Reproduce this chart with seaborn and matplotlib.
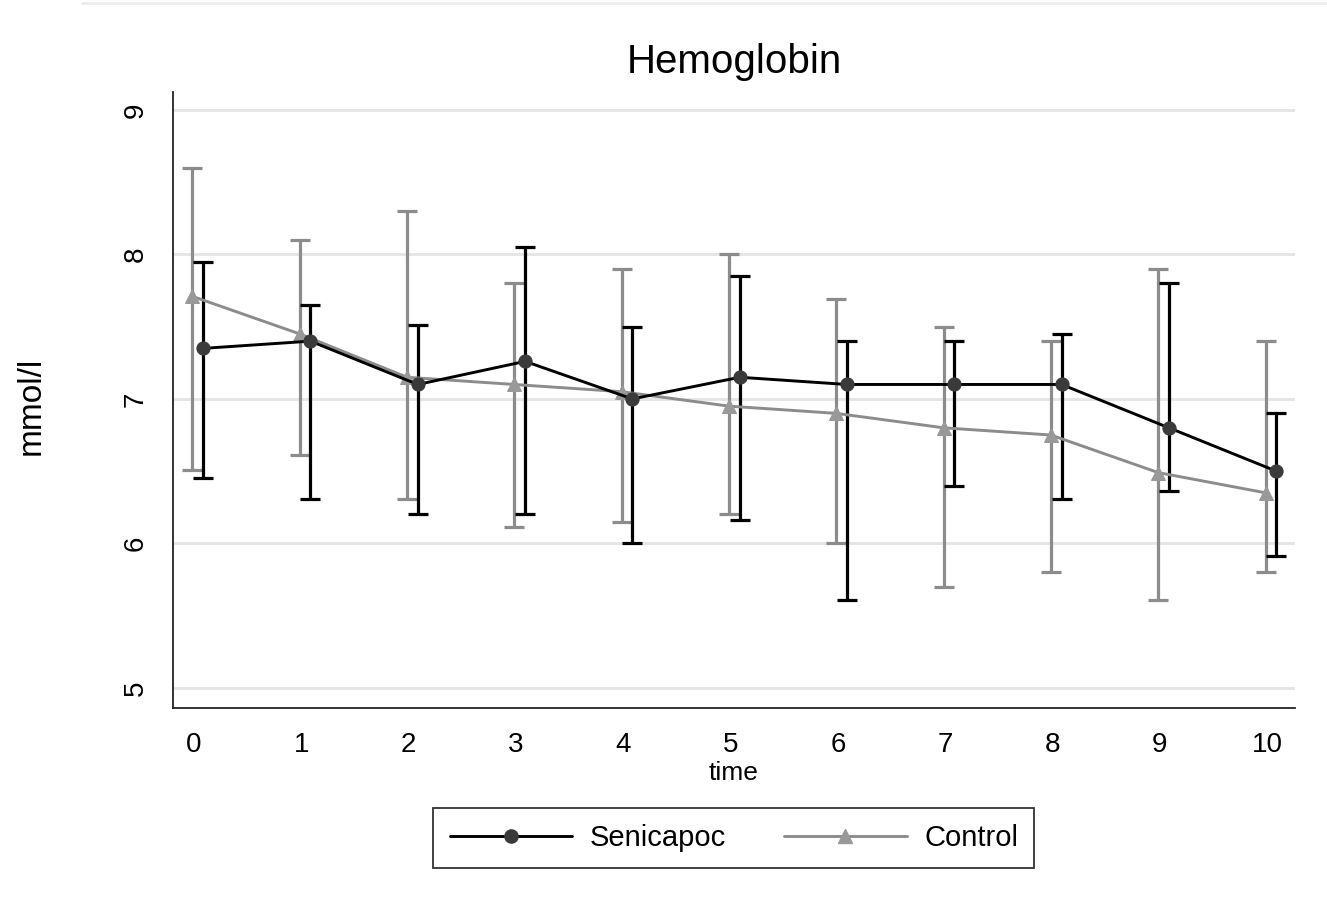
import matplotlib
matplotlib.use("Agg")
import matplotlib.pyplot as plt
import numpy as np
import pandas as pd
import seaborn as sns
from matplotlib.lines import Line2D

# values
time = [0, 1, 2, 3, 4, 5, 6, 7, 8, 9, 10]

seni_mean = [7.35, 7.40, 7.10, 7.26, 7.00, 7.15, 7.10, 7.10, 7.10, 6.80, 6.50]
seni_low = [6.45, 6.31, 6.20, 6.20, 6.00, 6.16, 5.61, 6.40, 6.31, 6.36, 5.91]
seni_high = [7.95, 7.65, 7.51, 8.05, 7.50, 7.85, 7.40, 7.40, 7.45, 7.80, 6.90]

ctrl_mean = [7.71, 7.45, 7.15, 7.10, 7.05, 6.95, 6.90, 6.80, 6.75, 6.49, 6.35]
ctrl_low = [6.51, 6.61, 6.31, 6.11, 6.15, 6.20, 6.00, 5.70, 5.80, 5.61, 5.80]
ctrl_high = [8.60, 8.10, 8.30, 7.80, 7.90, 8.00, 7.69, 7.50, 7.40, 7.90, 7.40]

groups = ["Senicapoc", "Control"]

df = pd.concat([
    pd.DataFrame({"time": time, "group": "Senicapoc", "mean": seni_mean,
                  "low": seni_low, "high": seni_high}),
    pd.DataFrame({"time": time, "group": "Control", "mean": ctrl_mean,
                  "low": ctrl_low, "high": ctrl_high}),
], ignore_index=True)

# small horizontal dodge so the bars don't sit on top of each other
dodge = {"Senicapoc": 0.085, "Control": -0.015}
df["x"] = df["time"] + df["group"].map(dodge)

colors = {"Senicapoc": "#000000", "Control": "#8c8c8c"}
marker_colors = {"Senicapoc": "#3a3a3a", "Control": "#999999"}
markers = {"Senicapoc": "o", "Control": "^"}
msize = {"Senicapoc": 9.5, "Control": 10.5}

sns.set_theme(style="white")
plt.rcParams["font.family"] = ["Liberation Sans", "DejaVu Sans"]
plt.rcParams["text.color"] = "black"
plt.rcParams["axes.labelcolor"] = "black"

fig = plt.figure(figsize=(13.27, 9.09), dpi=100)
ax = fig.add_axes([0.1304, 0.2211, 0.8455, 0.6777])

# error bars (drawn first so lines sit on top)
for g in ["Control", "Senicapoc"]:
    d = df[df["group"] == g]
    ax.errorbar(d["x"], d["mean"],
                yerr=[d["mean"] - d["low"], d["high"] - d["mean"]],
                fmt="none", ecolor=colors[g], elinewidth=2.3,
                capsize=7.5, capthick=2.3, zorder=2)

# mean lines with markers
for g in ["Control", "Senicapoc"]:
    d = df[df["group"] == g]
    sns.lineplot(data=d, x="x", y="mean", ax=ax, color=colors[g],
                 linewidth=2.1, marker=markers[g], markersize=msize[g],
                 markerfacecolor=marker_colors[g],
                 markeredgecolor=marker_colors[g],
                 legend=False, zorder=3)

ax.set_xlim(-0.196, 10.26)
ax.set_ylim(4.86, 9.125)
ax.set_xticks(time)
ax.set_yticks([5, 6, 7, 8, 9])
ax.grid(axis="y", color="#e6e6e6", linewidth=2.2)
ax.grid(axis="x", visible=False)
ax.set_axisbelow(True)

for side in ["top", "right"]:
    ax.spines[side].set_visible(False)
for side in ["left", "bottom"]:
    ax.spines[side].set_color("#222222")
    ax.spines[side].set_linewidth(1.3)

ax.tick_params(axis="both", which="major", direction="out", length=8.5,
               width=1.3, color="#222222", labelsize=20, labelcolor="black")
ax.tick_params(axis="x", pad=9)
ax.tick_params(axis="y", pad=9)
for lbl in ax.get_yticklabels():
    lbl.set_rotation(90)
    lbl.set_va("center")

ax.set_xlabel("time", fontsize=19, labelpad=2)
ax.set_ylabel("mmol/l", fontsize=24)
ax.yaxis.set_label_coords(-0.113, 0.49)
ax.set_title("Hemoglobin", fontsize=29, pad=14, color="black")

handles = [
    Line2D([], [], color=colors[g], linewidth=2.1, marker=markers[g],
           markersize=msize[g], markerfacecolor=marker_colors[g],
           markeredgecolor=marker_colors[g])
    for g in groups
]
leg = fig.legend(handles, groups, loc="center", bbox_to_anchor=(0.553, 0.078),
                 ncol=2, fontsize=21, frameon=True, fancybox=False,
                 edgecolor="black", handlelength=4.2, handletextpad=0.6,
                 columnspacing=2.0, borderpad=0.55)
leg.get_frame().set_linewidth(1.3)

# faint outer border line along the top
fig.add_artist(Line2D([82 / 1327, 1.0], [1 - 3 / 909, 1 - 3 / 909],
                      transform=fig.transFigure, color="#ececec", linewidth=2))

fig.savefig("out.png", dpi=100)
